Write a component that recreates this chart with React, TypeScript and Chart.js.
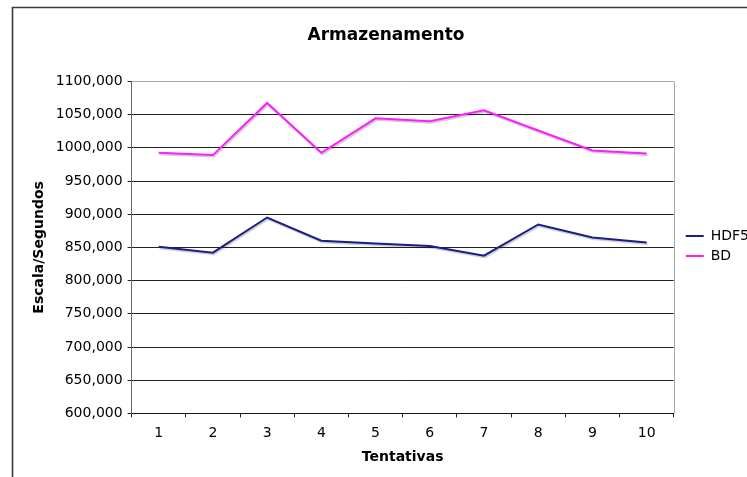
import React, { useEffect, useRef } from "react";
import { Chart, registerables } from "chart.js";

Chart.register(...registerables);

const categories = ["1", "2", "3", "4", "5", "6", "7", "8", "9", "10"];
const hdf5Values = [851, 842, 895, 860, 856, 852, 837.5, 884.5, 865, 857.5];
const bdValues = [992.4, 989, 1067.5, 992.4, 1044.4, 1040, 1056.6, 1026, 996, 991.4];
const yMin = 600;
const yMax = 1100;
const yStep = 50;

const FONT = "'DejaVu Sans', Verdana, sans-serif";

const framePlugin = {
  id: "frame",
  afterLayout(chart: any) {
    const lg = chart.legend;
    if (lg) {
      lg.left += 6;
      lg.right += 6;
      lg.top += 8;
      lg.bottom += 8;
    }
  },
  beforeDraw(chart: any) {
    const { ctx, width, height } = chart;
    ctx.save();
    ctx.fillStyle = "#ffffff";
    ctx.fillRect(0, 0, width, height);
    ctx.strokeStyle = "#3a3a3a";
    ctx.lineWidth = 1.6;
    ctx.beginPath();
    ctx.moveTo(12.5, height);
    ctx.lineTo(12.5, 7.5);
    ctx.lineTo(width, 7.5);
    ctx.stroke();
    ctx.restore();
  },
  beforeDatasetsDraw(chart: any) {
    const { ctx } = chart;
    ctx.save();
    ctx.shadowColor = "rgba(0,0,0,0.22)";
    ctx.shadowOffsetX = 1;
    ctx.shadowOffsetY = 1.5;
    ctx.shadowBlur = 1;
  },
  afterDatasetsDraw(chart: any) {
    const { ctx, chartArea } = chart;
    ctx.restore();
    ctx.save();
    ctx.strokeStyle = "#a8a8a8";
    ctx.lineWidth = 1;
    ctx.beginPath();
    ctx.moveTo(Math.round(chartArea.right) + 0.5, chartArea.top);
    ctx.lineTo(Math.round(chartArea.right) + 0.5, chartArea.bottom);
    ctx.stroke();
    ctx.restore();
  },
};

export default function App() {
  const ref = useRef<HTMLCanvasElement | null>(null);

  useEffect(() => {
    document.body.style.margin = "0";
    const canvas = ref.current!;
    const chart = new Chart(canvas, {
      type: "line",
      data: {
        labels: categories,
        datasets: [
          {
            label: "HDF5",
            data: hdf5Values,
            borderColor: "#1c1c86",
            backgroundColor: "#1c1c86",
            borderWidth: 2,
            pointRadius: 0,
            tension: 0,
          },
          {
            label: "BD",
            data: bdValues,
            borderColor: "#ff1cff",
            backgroundColor: "#ff1cff",
            borderWidth: 2,
            pointRadius: 0,
            tension: 0,
          },
        ],
      },
      options: {
        animation: false,
        responsive: false,
        maintainAspectRatio: false,
        layout: { padding: { left: 19, right: -6, top: 10, bottom: 11 } },
        plugins: {
          title: {
            display: true,
            text: "Armazenamento",
            color: "#000",
            font: { family: FONT, size: 17, weight: "bold" },
            padding: { top: 15, bottom: 36 },
          },
          legend: {
            display: true,
            position: "right",
            labels: {
              usePointStyle: true,
              pointStyle: "line",
              pointStyleWidth: 18,
              boxHeight: 14,
              padding: 6,
              color: "#000",
              font: { family: FONT, size: 14 },
            },
          },
          tooltip: { enabled: false },
        },
        scales: {
          x: {
            type: "category",
            offset: true,
            grid: {
              offset: true,
              drawOnChartArea: false,
              drawTicks: true,
              tickLength: 4,
              color: "#222",
            },
            border: { display: true, color: "#111", width: 1 },
            ticks: {
              color: "#000",
              padding: 8,
              font: { family: FONT, size: 14 },
              maxRotation: 0,
            },
            title: {
              display: true,
              text: "Tentativas",
              color: "#000",
              font: { family: FONT, size: 14, weight: "bold" },
              padding: { top: -1, bottom: 0 },
            },
          },
          y: {
            min: yMin,
            max: yMax,
            grid: {
              color: (c: any) => (c.tick && c.tick.value === yMax ? "#a8a8a8" : "#222"),
              tickColor: "#222",
              tickLength: 4,
              drawTicks: true,
            },
            border: { display: true, color: "#666", width: 1 },
            ticks: {
              stepSize: yStep,
              color: "#000",
              padding: 5,
              font: { family: FONT, size: 14 },
              callback: (v: any) => `${v},000`,
            },
            title: {
              display: true,
              text: "Escala/Segundos",
              color: "#000",
              font: { family: FONT, size: 14, weight: "bold" },
              padding: { top: 12, bottom: 3 },
            },
          },
        },
      },
      plugins: [framePlugin],
    });
    return () => chart.destroy();
  }, []);

  return (
    <div style={{ position: "relative", width: 747, height: 477 }}>
      <canvas ref={ref} width={747} height={477} style={{ display: "block" }} />
    </div>
  );
}
